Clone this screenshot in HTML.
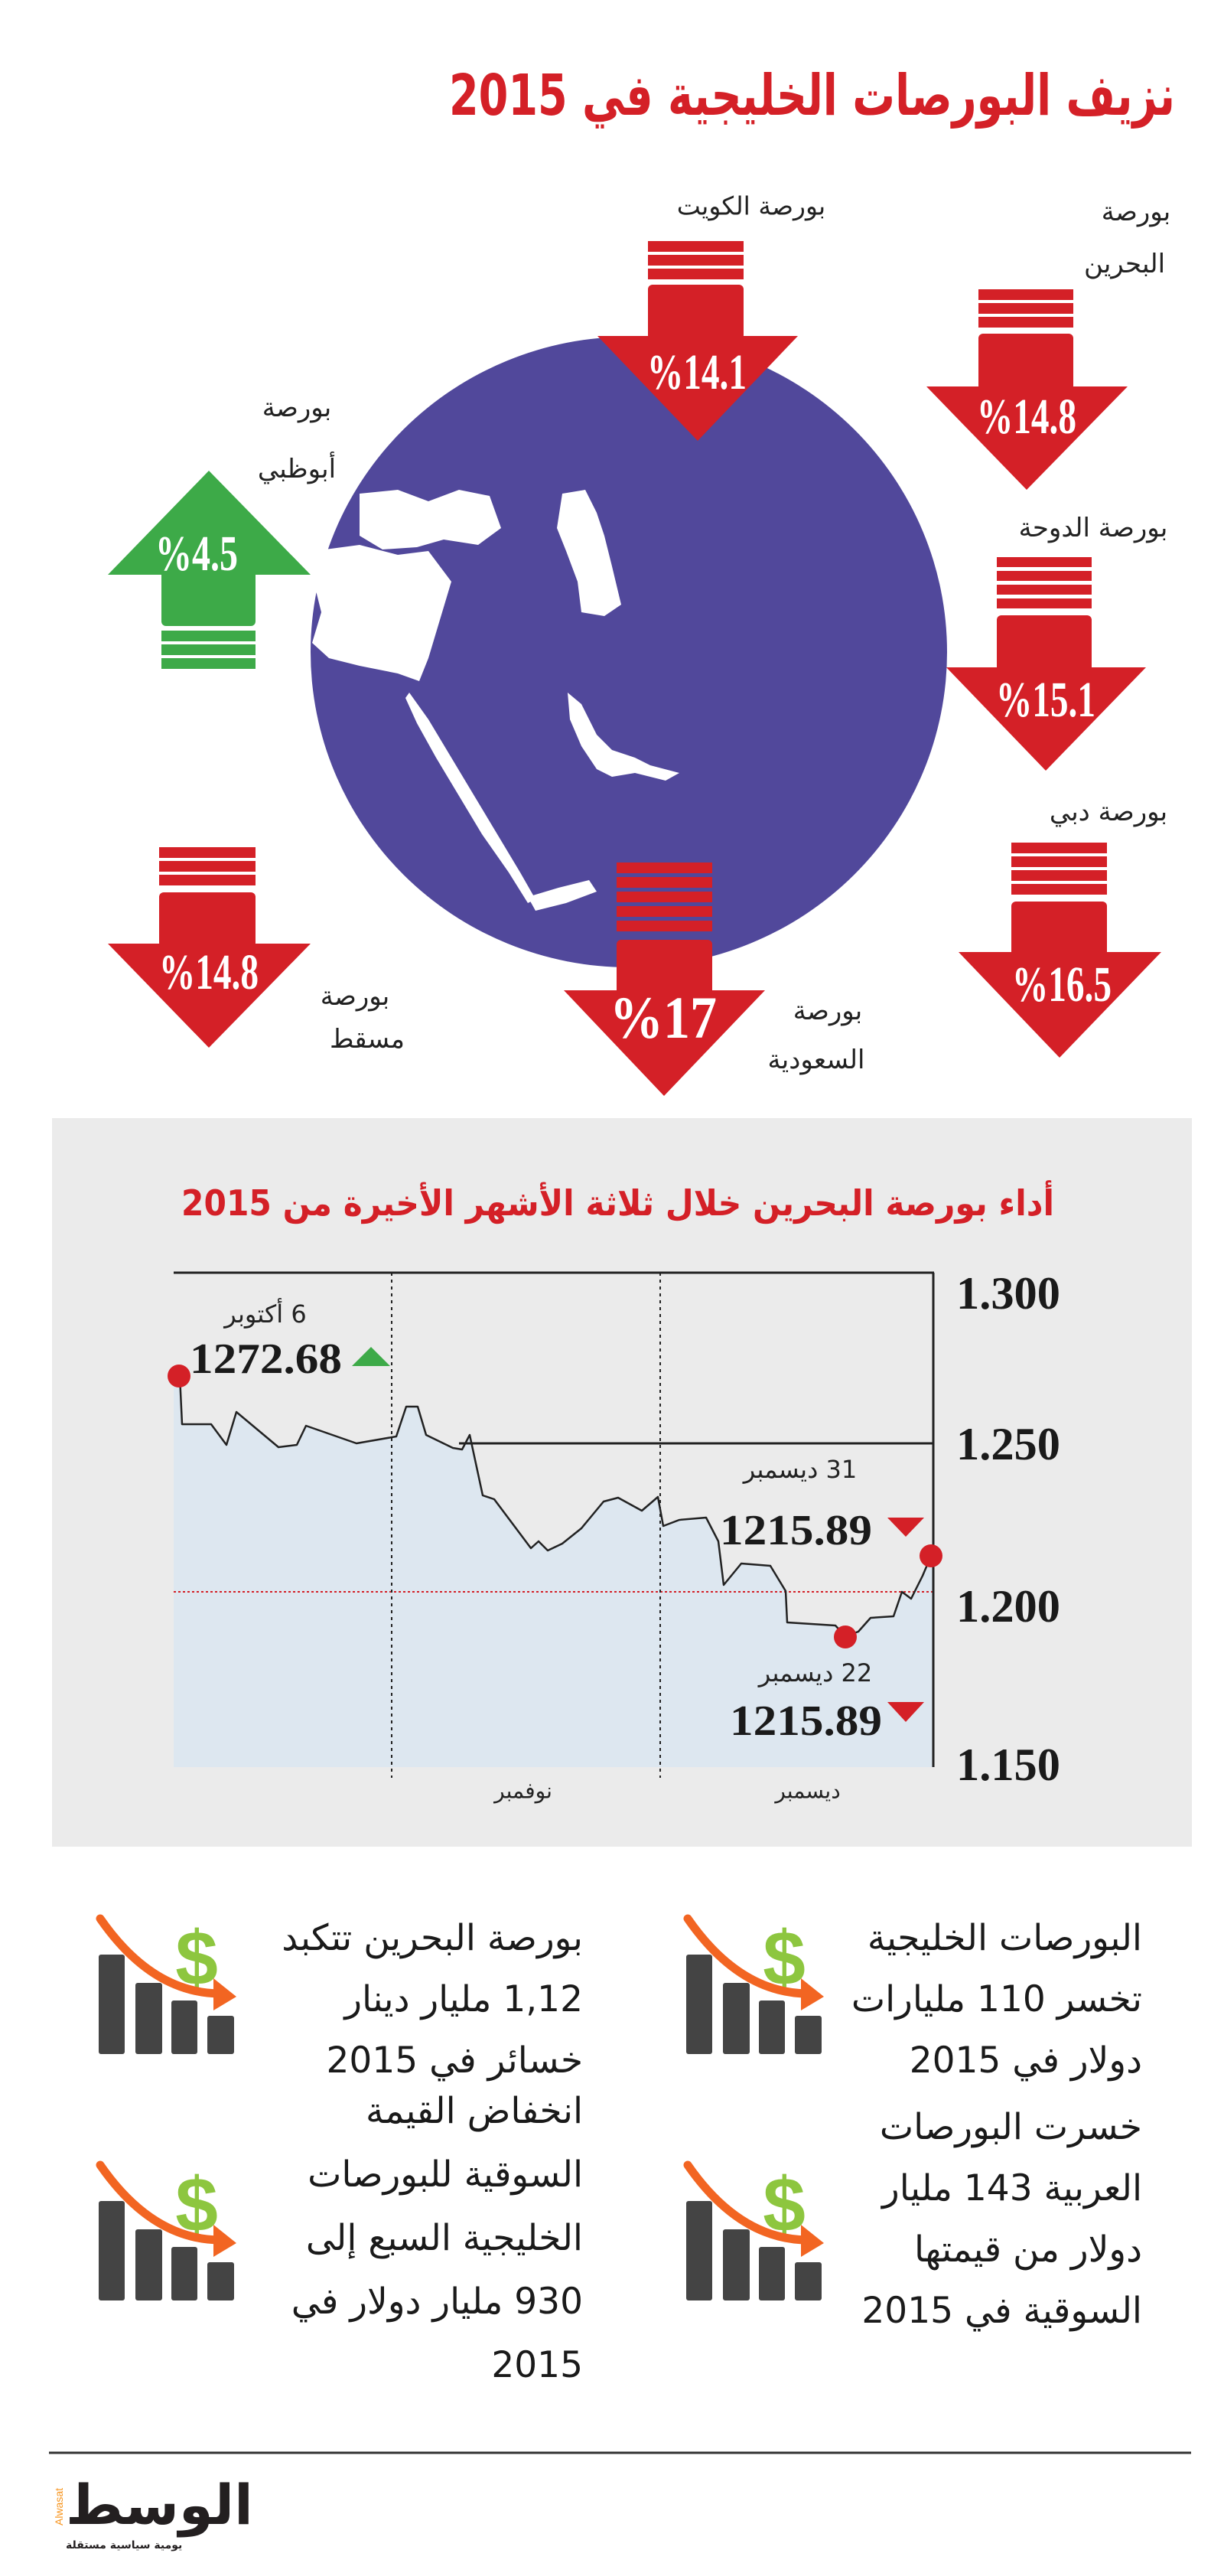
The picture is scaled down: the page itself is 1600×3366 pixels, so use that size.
<!DOCTYPE html>
<html><head><meta charset="utf-8">
<style>
html,body{margin:0;padding:0;background:#fff;}
body{width:1600px;height:3366px;position:relative;overflow:hidden;font-family:"Liberation Serif","DejaVu Sans",serif;}
.t{position:absolute;direction:rtl;white-space:nowrap;font-family:"DejaVu Sans","Liberation Sans",sans-serif;color:#222;}
.c{transform:translate(50%,-50%);}
.bt{position:absolute;direction:rtl;text-align:right;font-family:"DejaVu Sans","Liberation Sans",sans-serif;font-size:47px;line-height:80px;color:#1a1a1a;white-space:nowrap;}
</style></head><body>
<svg width="1600" height="3366" style="position:absolute;left:0;top:0" xmlns="http://www.w3.org/2000/svg">
<defs>
<g id="ic">
 <rect x="0" y="49" width="34" height="130" rx="3" fill="#444"/>
 <rect x="48" y="86" width="35" height="93" rx="3" fill="#444"/>
 <rect x="95" y="109" width="34" height="70" rx="3" fill="#444"/>
 <rect x="142" y="129" width="35" height="50" rx="3" fill="#444"/>
 <text x="128" y="88" font-family="Liberation Sans,sans-serif" font-weight="bold" font-size="100" fill="#8dc63f" text-anchor="middle">$</text>
 <path d="M2,2 Q70,100 160,100" stroke="#f26522" stroke-width="11" fill="none" stroke-linecap="round"/>
 <polygon points="150,80 180,104 150,122" fill="#f26522"/>
</g>
</defs>
<text x="1536" y="150" font-family="DejaVu Sans,sans-serif" font-weight="bold" font-size="74" fill="#d42027" text-anchor="start" direction="rtl" textLength="949" lengthAdjust="spacingAndGlyphs">نزيف البورصات الخليجية في 2015</text>

<ellipse cx="822" cy="852" rx="416" ry="412" fill="#51489b"/>
<g fill="#fff">
 <path d="M470,645 L520,640 L560,655 L600,640 L640,648 L655,690 L625,712 L580,705 L545,715 L500,718 L470,700 Z"/>
 <path d="M410,720 L470,712 L520,725 L560,720 L590,760 L575,810 L560,860 L548,890 L520,880 L470,870 L430,860 L408,840 L420,800 L410,760 Z"/>
 <path d="M735,645 L765,640 L780,670 L790,700 L800,740 L812,790 L790,805 L760,800 L755,760 L740,720 L728,690 Z"/>
 <path d="M535,905 L560,940 L590,990 L620,1040 L650,1090 L680,1140 L700,1175 L690,1180 L665,1140 L630,1090 L600,1040 L570,990 L545,945 L530,912 Z"/>
 <path d="M742,905 L760,920 L780,960 L800,980 L830,990 L850,1000 L888,1010 L870,1020 L830,1010 L800,1015 L780,1005 L760,975 L745,940 Z"/>
 <path d="M690,1172 L730,1160 L770,1150 L780,1165 L740,1180 L700,1190 Z"/>
</g>

<g fill="#d42027">
 <rect x="847" y="315" width="125" height="14"/><rect x="847" y="333" width="125" height="14"/><rect x="847" y="351" width="125" height="14"/>
 <rect x="847" y="372" width="125" height="72" rx="6"/><polygon points="781,439 1043,439 912,576"/>
 <rect x="1279" y="378" width="124" height="14"/><rect x="1279" y="396" width="124" height="14"/><rect x="1279" y="414" width="124" height="14"/>
 <rect x="1279" y="436" width="124" height="74" rx="6"/><polygon points="1211,505 1474,505 1342,640"/>
 <rect x="1303" y="728" width="124" height="13"/><rect x="1303" y="746" width="124" height="13"/><rect x="1303" y="764" width="124" height="13"/><rect x="1303" y="782" width="124" height="13"/>
 <rect x="1303" y="804" width="124" height="74" rx="6"/><polygon points="1237,872 1498,872 1367,1007"/>
 <rect x="1322" y="1101" width="125" height="14"/><rect x="1322" y="1119" width="125" height="14"/><rect x="1322" y="1137" width="125" height="14"/><rect x="1322" y="1155" width="125" height="14"/>
 <rect x="1322" y="1178" width="125" height="72" rx="6"/><polygon points="1253,1244 1518,1244 1385,1382"/>
 <rect x="208" y="1107" width="126" height="14"/><rect x="208" y="1125" width="126" height="14"/><rect x="208" y="1143" width="126" height="14"/>
 <rect x="208" y="1166" width="126" height="72" rx="6"/><polygon points="141,1233 406,1233 273,1369"/>
 <rect x="806" y="1127" width="125" height="14"/><rect x="806" y="1146" width="125" height="14"/><rect x="806" y="1165" width="125" height="14"/><rect x="806" y="1184" width="125" height="14"/><rect x="806" y="1203" width="125" height="14"/>
 <rect x="806" y="1228" width="125" height="72" rx="6"/><polygon points="737,1294 1000,1294 868,1432"/>
</g>
<g fill="#3daa48">
 <polygon points="273,615 141,751 406,751"/>
 <rect x="211" y="745" width="123" height="73" rx="6"/>
 <rect x="211" y="824" width="123" height="14"/><rect x="211" y="842" width="123" height="14"/><rect x="211" y="860" width="123" height="14"/>
</g>
<g font-family="Liberation Serif,serif" font-weight="bold" fill="#fff" text-anchor="middle" font-size="66">
 <text x="911" y="508" textLength="130" lengthAdjust="spacingAndGlyphs">%14.1</text>
 <text x="1342" y="566" textLength="130" lengthAdjust="spacingAndGlyphs">%14.8</text>
 <text x="1367" y="936" textLength="130" lengthAdjust="spacingAndGlyphs">%15.1</text>
 <text x="1388" y="1308" textLength="130" lengthAdjust="spacingAndGlyphs">%16.5</text>
 <text x="273" y="1292" textLength="130" lengthAdjust="spacingAndGlyphs">%14.8</text>
 <text x="867" y="1356" font-size="78" textLength="140" lengthAdjust="spacingAndGlyphs">%17</text>
 <text x="257" y="745" textLength="108" lengthAdjust="spacingAndGlyphs">%4.5</text>
</g>

<rect x="68" y="1461" width="1490" height="952" fill="#ebebeb"/>
<text x="1378" y="1588" font-family="DejaVu Sans,sans-serif" font-weight="bold" font-size="46" fill="#d42027" direction="rtl" text-anchor="start" textLength="1141" lengthAdjust="spacingAndGlyphs">أداء بورصة البحرين خلال ثلاثة الأشهر الأخيرة من 2015</text>
<polygon fill="#dde7f0" points="227,1798 235,1798 238,1861 276,1861 296,1888 309,1845 364,1891 388,1888 400,1863 466,1886 518,1877 531,1838 546,1838 557,1875 592,1892 604,1894 614,1875 631,1954 646,1959 694,2023 704,2014 716,2026 735,2017 760,1997 789,1962 808,1957 839,1974 860,1956 867,1994 888,1986 923,1983 939,2014 946,2071 969,2043 1007,2046 1027,2079 1029,2120 1092,2124 1105,2138 1122,2132 1138,2114 1168,2112 1179,2080 1191,2089 1206,2059 1217,2033 1220,2033 1220,2309 227,2309"/>
<line x1="227" y1="1663" x2="1221" y2="1663" stroke="#222" stroke-width="3"/>
<line x1="600" y1="1886" x2="1221" y2="1886" stroke="#222" stroke-width="3"/>
<line x1="227" y1="2080" x2="1220" y2="2080" stroke="#d42027" stroke-width="2" stroke-dasharray="3,3"/>
<line x1="1220" y1="1663" x2="1220" y2="2309" stroke="#222" stroke-width="3"/>
<line x1="512" y1="1663" x2="512" y2="2323" stroke="#222" stroke-width="2" stroke-dasharray="4,5"/>
<line x1="863" y1="1663" x2="863" y2="2323" stroke="#222" stroke-width="2" stroke-dasharray="4,5"/>
<polyline fill="none" stroke="#222" stroke-width="2.5" stroke-linejoin="round" points="235,1798 238,1861 276,1861 296,1888 309,1845 364,1891 388,1888 400,1863 466,1886 518,1877 531,1838 546,1838 557,1875 592,1892 604,1894 614,1875 631,1954 646,1959 694,2023 704,2014 716,2026 735,2017 760,1997 789,1962 808,1957 839,1974 860,1956 867,1994 888,1986 923,1983 939,2014 946,2071 969,2043 1007,2046 1027,2079 1029,2120 1092,2124 1105,2138 1122,2132 1138,2114 1168,2112 1179,2080 1191,2089 1206,2059 1217,2033"/>
<circle cx="234" cy="1798" r="15" fill="#d42027"/>
<circle cx="1105" cy="2139" r="15" fill="#d42027"/>
<circle cx="1217" cy="2033" r="15" fill="#d42027"/>
<g font-family="Liberation Serif,serif" font-weight="bold" fill="#1a1a1a" font-size="60">
 <text x="1250" y="1710" textLength="136" lengthAdjust="spacingAndGlyphs">1.300</text>
 <text x="1250" y="1907" textLength="136" lengthAdjust="spacingAndGlyphs">1.250</text>
 <text x="1250" y="2119" textLength="136" lengthAdjust="spacingAndGlyphs">1.200</text>
 <text x="1250" y="2326" textLength="136" lengthAdjust="spacingAndGlyphs">1.150</text>
 <text x="248" y="1794" font-size="56" textLength="199" lengthAdjust="spacingAndGlyphs">1272.68</text>
 <text x="941" y="2018" font-size="56" textLength="199" lengthAdjust="spacingAndGlyphs">1215.89</text>
 <text x="954" y="2267" font-size="56" textLength="199" lengthAdjust="spacingAndGlyphs">1215.89</text>
</g>
<polygon points="460,1785 510,1785 485,1760" fill="#3daa48"/>
<polygon points="1160,1983 1208,1983 1184,2008" fill="#d42027"/>
<polygon points="1160,2224 1208,2224 1184,2250" fill="#d42027"/>

<use href="#ic" x="129" y="2505"/>
<use href="#ic" x="897" y="2505"/>
<use href="#ic" x="129" y="2827"/>
<use href="#ic" x="897" y="2827"/>

<line x1="64" y1="3205" x2="1557" y2="3205" stroke="#333" stroke-width="3"/>
<text x="82" y="3300" font-family="Liberation Sans,sans-serif" font-size="14" fill="#f7941d" transform="rotate(-90 82 3300)">Alwasat</text>
</svg>

<div class="t c" style="right:618px;top:269px;font-size:33px">بورصة الكويت</div>
<div class="t c" style="right:115px;top:277px;font-size:34px">بورصة</div>
<div class="t c" style="right:130px;top:345px;font-size:34px">البحرين</div>
<div class="t c" style="right:1212px;top:533px;font-size:34px">بورصة</div>
<div class="t c" style="right:1212px;top:613px;font-size:34px">أبوظبي</div>
<div class="t c" style="right:171px;top:690px;font-size:34px">بورصة الدوحة</div>
<div class="t c" style="right:151px;top:1061px;font-size:34px">بورصة دبي</div>
<div class="t c" style="right:1136px;top:1302px;font-size:34px">بورصة</div>
<div class="t c" style="right:1120px;top:1358px;font-size:34px">مسقط</div>
<div class="t c" style="right:518px;top:1321px;font-size:34px">بورصة</div>
<div class="t c" style="right:533px;top:1385px;font-size:34px">السعودية</div>

<div class="t c" style="right:1253px;top:1717px;font-size:32px">6 أكتوبر</div>
<div class="t c" style="right:554px;top:1920px;font-size:32px">31 ديسمبر</div>
<div class="t c" style="right:534px;top:2186px;font-size:32px">22 ديسمبر</div>
<div class="t c" style="right:916px;top:2340px;font-size:28px">نوفمبر</div>
<div class="t c" style="right:544px;top:2340px;font-size:28px">ديسمبر</div>

<div class="bt" style="right:107px;top:2493px">البورصات الخليجية<br>تخسر 110 مليارات<br>دولار في 2015</div>
<div class="bt" style="right:838px;top:2493px">بورصة البحرين تتكبد<br>1,12 مليار دينار<br>خسائر في 2015</div>
<div class="bt" style="right:107px;top:2740px">خسرت البورصات<br>العربية 143 مليار<br>دولار من قيمتها<br>السوقية في 2015</div>
<div class="bt" style="right:838px;top:2717px;line-height:83px">انخفاض القيمة<br>السوقية للبورصات<br>الخليجية السبع إلى<br>930 مليار دولار في<br>2015</div>

<div class="t" style="left:86px;top:3228px;font-size:72px;font-weight:bold;color:#231f20;line-height:90px">الوسط</div>
<div class="t" style="left:86px;top:3318px;font-size:14px;font-weight:bold;color:#231f20">يومية سياسية مستقلة</div>
</body></html>
